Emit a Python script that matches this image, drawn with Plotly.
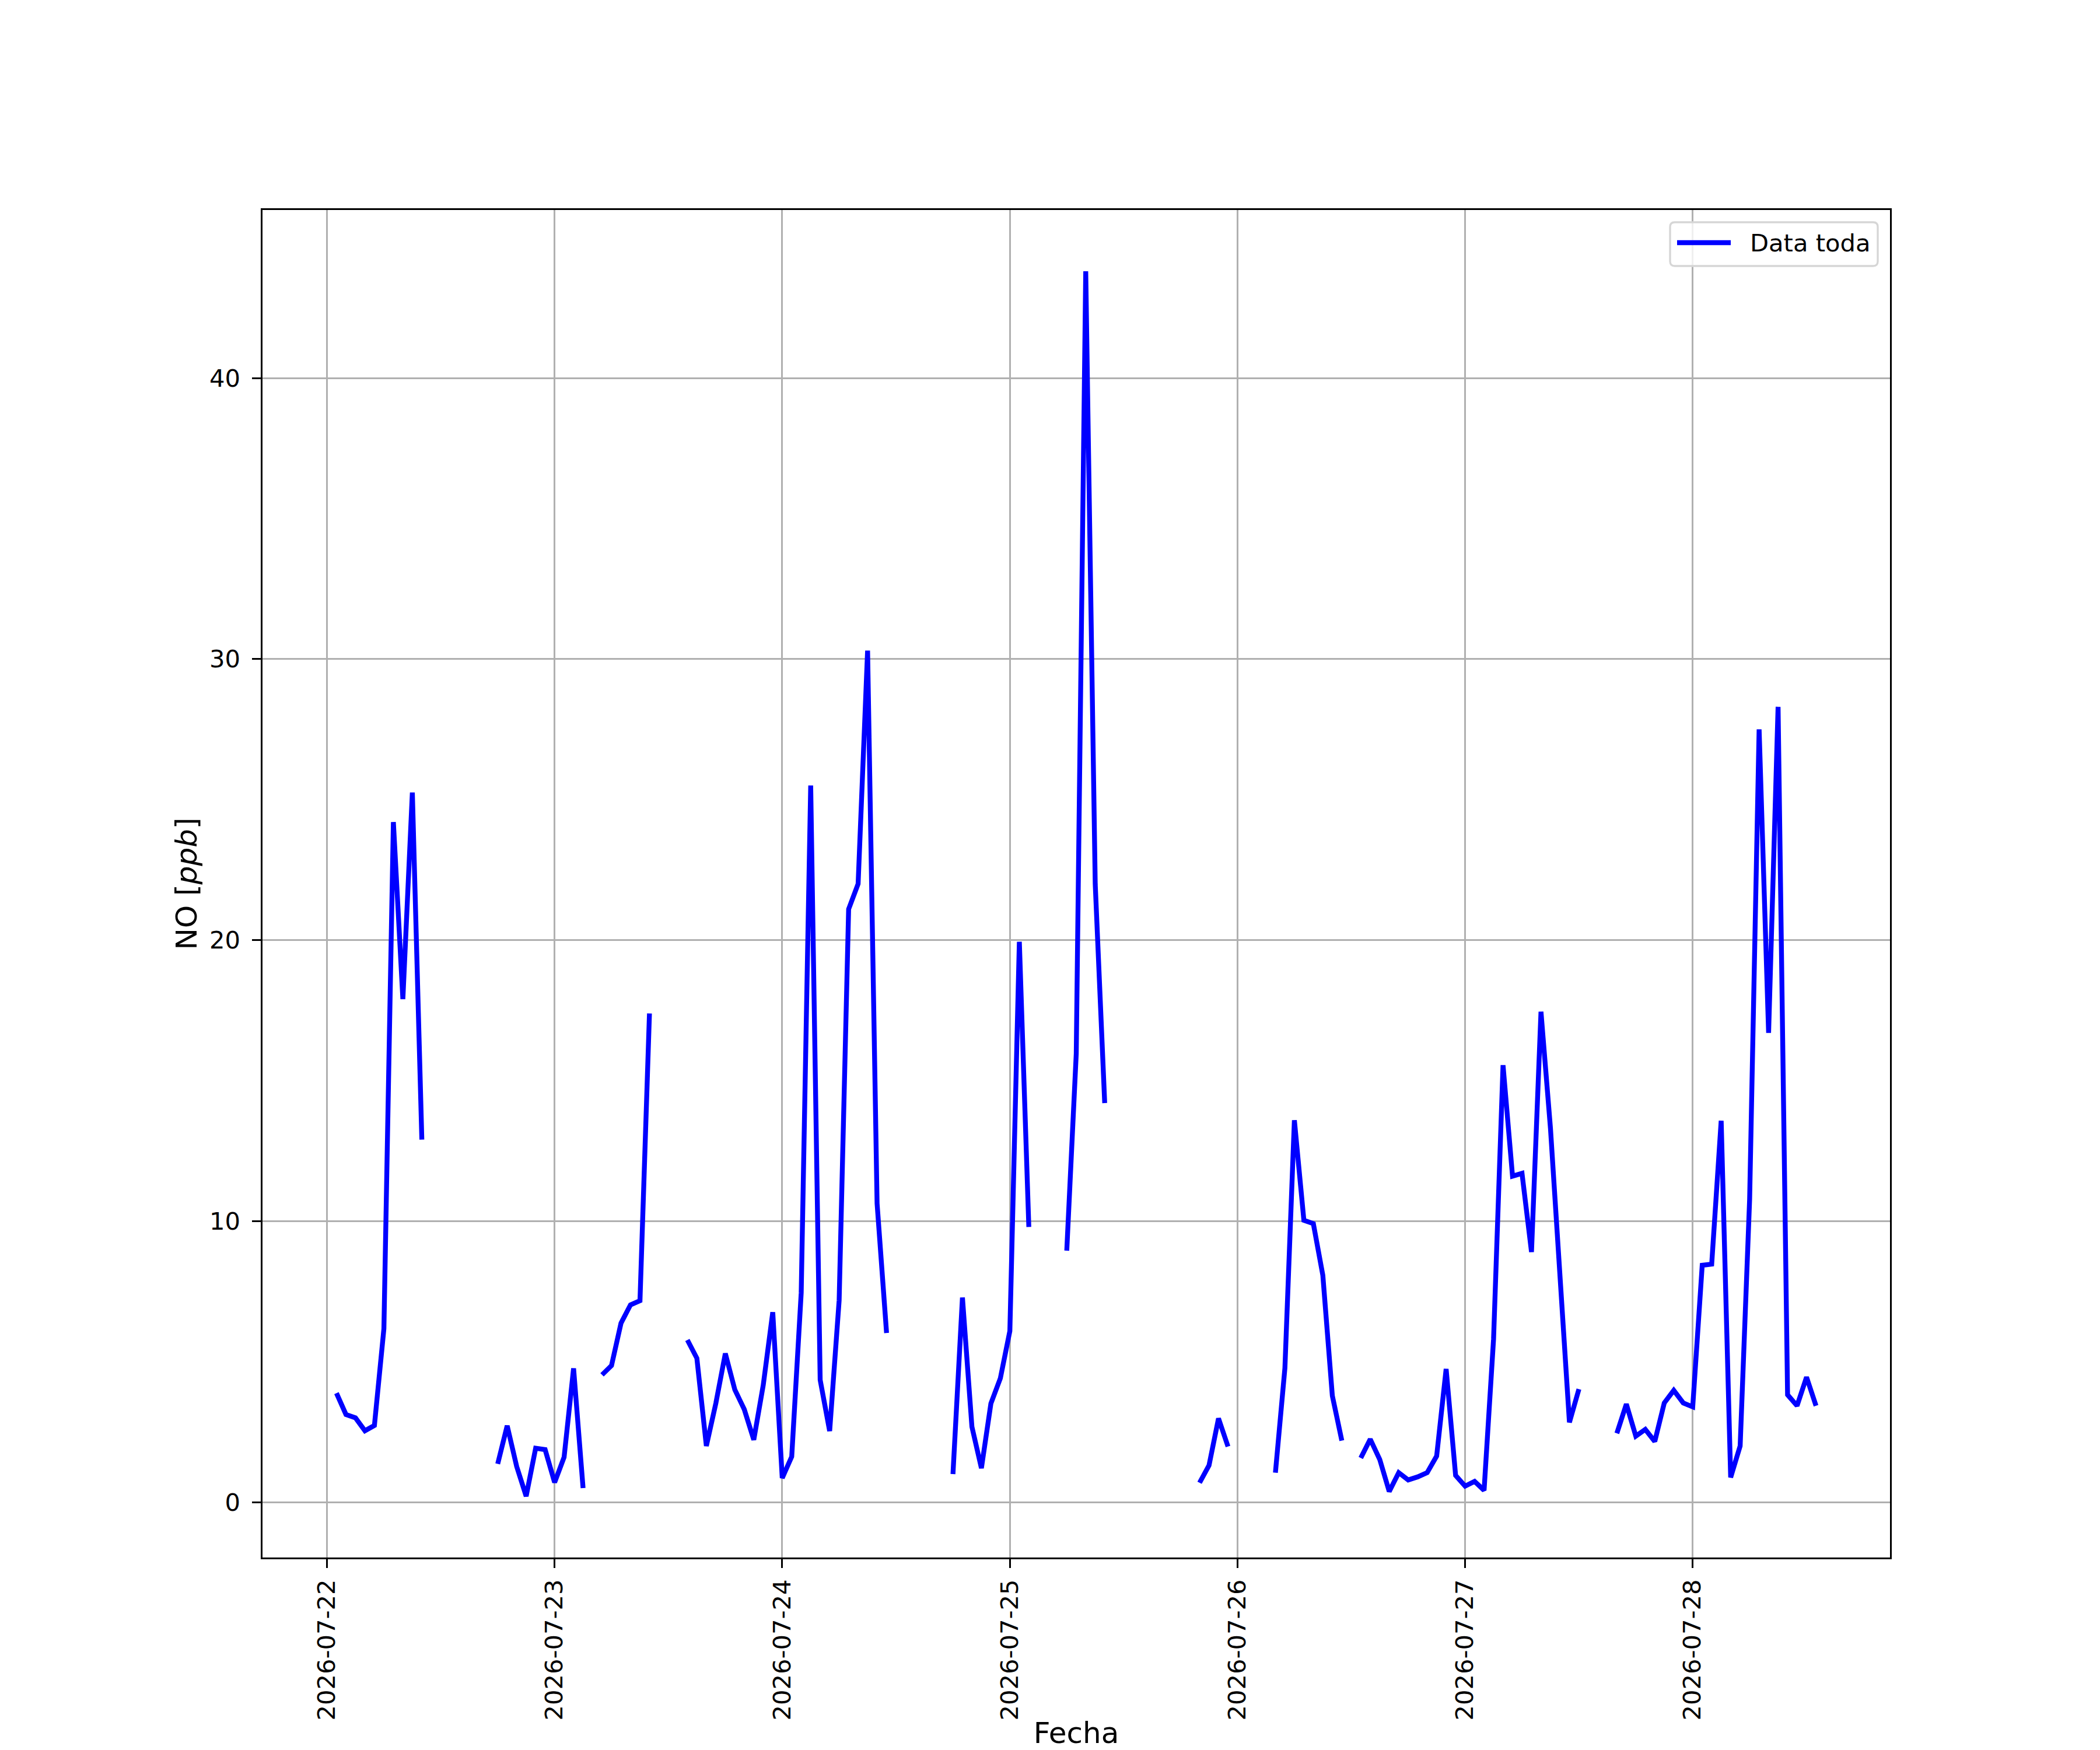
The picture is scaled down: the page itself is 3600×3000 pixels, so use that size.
import pandas as pd
import plotly.graph_objects as go

# hourly NO readings, one list per run of valid data (gaps in between)
seg1_start = "2026-07-22 01:00"
seg1 = [3.88, 3.12, 3.0, 2.54, 2.73, 6.17, 24.2, 17.9, 25.25, 12.9]
seg2_start = "2026-07-22 18:00"
seg2 = [1.36, 2.72, 1.27, 0.21, 1.92, 1.87, 0.7, 1.6, 4.76, 0.5]
seg3_start = "2026-07-23 05:00"
seg3 = [4.53, 4.86, 6.37, 7.02, 7.17, 17.39]
seg4_start = "2026-07-23 14:00"
seg4 = [5.77, 5.12, 2.0, 3.52, 5.29, 4.0, 3.3, 2.22, 4.17, 6.76,
        0.86, 1.62, 7.45, 25.5, 4.35, 2.53, 7.18, 21.1, 22.0, 30.3, 10.63, 6.02]
seg5_start = "2026-07-24 18:00"
seg5 = [1.0, 7.28, 2.68, 1.21, 3.51, 4.41, 6.09, 19.94, 9.79]
seg6_start = "2026-07-25 06:00"
seg6 = [8.95, 15.96, 43.8, 22.0, 14.2]
seg7_start = "2026-07-25 20:00"
seg7 = [0.69, 1.31, 2.98, 1.98]
seg8_start = "2026-07-26 04:00"
seg8 = [1.05, 4.77, 13.59, 10.03, 9.91, 8.07, 3.79, 2.19]
seg9_start = "2026-07-26 13:00"
seg9 = [1.57, 2.24, 1.52, 0.38, 1.05, 0.79, 0.90, 1.05, 1.64, 4.74, 0.95,
        0.57, 0.74, 0.42, 5.8, 15.55, 11.6, 11.7, 8.9, 17.45, 13.3, 7.8, 2.84, 4.02]
seg10_start = "2026-07-27 16:00"
seg10 = [2.45, 3.49, 2.35, 2.59, 2.16, 3.53, 3.98, 3.53,
         3.39, 8.43, 8.47, 13.57, 0.88, 2.0, 10.78, 27.5, 16.7, 28.3, 3.82, 3.43, 4.45, 3.43]

segments = [(seg1_start, seg1), (seg2_start, seg2), (seg3_start, seg3),
            (seg4_start, seg4), (seg5_start, seg5), (seg6_start, seg6),
            (seg7_start, seg7), (seg8_start, seg8), (seg9_start, seg9),
            (seg10_start, seg10)]

parts = []
for start, vals in segments:
    idx = pd.date_range(start, periods=len(vals), freq="h")
    parts.append(pd.Series(vals, index=idx))
no = pd.concat(parts)
no = no.reindex(pd.date_range(no.index.min(), no.index.max(), freq="h"))

# matplotlib-like 5% margins
tpad = (no.index.max() - no.index.min()) * 0.05
xr = [(no.index.min() - tpad).isoformat(), (no.index.max() + tpad).isoformat()]
ypad = (no.max() - no.min()) * 0.05
yr = [no.min() - ypad, no.max() + ypad]

PT = 300 / 72  # px per point at 300 dpi
FONT = dict(family="DejaVu Sans", size=10 * PT, color="black")
LABEL_FONT = dict(family="DejaVu Sans", size=12 * PT, color="black")

fig = go.Figure()
fig.add_trace(go.Scatter(x=no.index, y=no.values, mode="lines",
                         line=dict(color="blue", width=2 * PT),
                         name="Data toda", showlegend=False, connectgaps=False))

axis_common = dict(showline=True, mirror=True, linecolor="black", linewidth=0.8 * PT,
                   showgrid=True, gridcolor="#b0b0b0", gridwidth=0.8 * PT,
                   zeroline=False, ticks="outside", ticklen=3.5 * PT,
                   tickwidth=0.8 * PT, tickcolor="black", tickfont=FONT,
                   automargin=False)

fig.update_xaxes(type="date", range=xr, tick0="2026-07-22", dtick=86400000,
                 tickformat="%Y-%m-%d", tickangle=-90, ticklabelstandoff=3,
                 title=dict(text="Fecha", font=LABEL_FONT, standoff=15), **axis_common)
fig.update_yaxes(range=yr, tick0=0, dtick=10, ticklabelstandoff=12,
                 title=dict(text="NO [<i>ppb</i>]", font=LABEL_FONT, standoff=6), **axis_common)

# legend box drawn like matplotlib's (upper right)
W, H = 2790.0, 2310.0
x0, x1 = (2863 - 450) / W, (3219 - 450) / W
y1, y0 = 1 - 21 / H, 1 - 96 / H
rx, ry = 8 / W, 8 / H
path = (f"M{x0+rx},{y0} L{x1-rx},{y0} Q{x1},{y0} {x1},{y0+ry} "
        f"L{x1},{y1-ry} Q{x1},{y1} {x1-rx},{y1} L{x0+rx},{y1} "
        f"Q{x0},{y1} {x0},{y1-ry} L{x0},{y0+ry} Q{x0},{y0} {x0+rx},{y0} Z")
fig.add_shape(type="path", path=path, xref="paper", yref="paper",
              fillcolor="rgba(255,255,255,0.8)", line=dict(color="#d6d6d6", width=0.8 * PT))
ly = 1 - 56 / H
fig.add_shape(type="line", xref="paper", yref="paper",
              x0=(2875 - 450) / W, x1=(2967 - 450) / W, y0=ly, y1=ly,
              line=dict(color="blue", width=2 * PT))
fig.add_annotation(text="Data toda", xref="paper", yref="paper",
                   x=(2998 - 450) / W, y=ly, xanchor="left", yanchor="middle",
                   showarrow=False, font=FONT)

# page body adds an 8px offset, so the figure is 8px smaller and shifted
fig.update_layout(width=3592, height=2992, plot_bgcolor="white", paper_bgcolor="white",
                  margin=dict(l=442, r=360, t=352, b=330), font=FONT)

fig.write_html("out.html")
